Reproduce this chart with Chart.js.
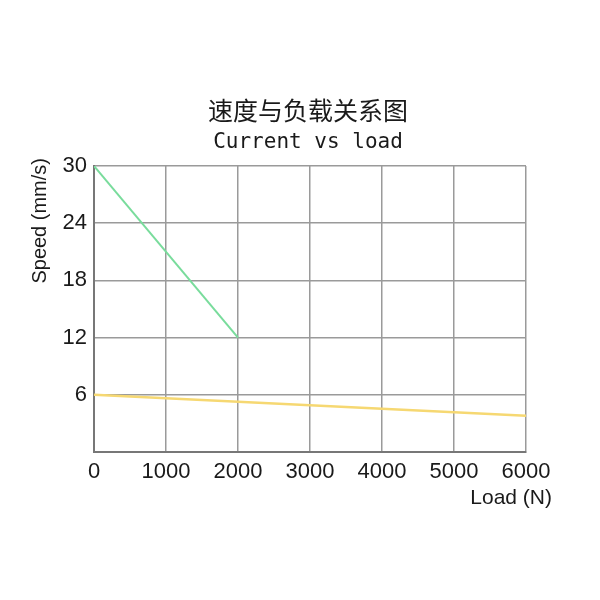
<!DOCTYPE html>
<html>
<head>
<meta charset="utf-8">
<script src="https://cdn.jsdelivr.net/npm/chart.js@4"></script>
<style>
html,body{margin:0;padding:0;background:#fff;}
#wrap{width:600px;height:600px;}
</style>
</head>
<body>
<div id="wrap"><canvas id="c" width="600" height="600"></canvas></div>
<script>
const titleMain = "速度与负载关系图";
const titleSub = "Current vs load";
const xTitle = "Load (N)";
const yTitle = "Speed (mm/s)";
const xTicks = [0, 1000, 2000, 3000, 4000, 5000, 6000];
const yTicks = [0, 6, 12, 18, 24, 30];
const greenLoad = [0, 2000];
const greenSpeed = [30, 12];
const yellowLoad = [0, 6000];
const yellowSpeed = [6.0, 3.8];

const toPts = (xs, ys) => xs.map((x, i) => ({x: x, y: ys[i]}));

const textPlugin = {
  id: 'texts',
  afterDraw(chart) {
    const ctx = chart.ctx;
    ctx.save();
    ctx.fillStyle = '#1a1a1a';
    ctx.textAlign = 'center';
    ctx.textBaseline = 'middle';
    ctx.font = '25px "Noto Sans CJK SC"';
    ctx.fillText(titleMain, 308, 110);
    ctx.font = '21px "DejaVu Sans Mono"';
    ctx.fillText(titleSub, 308, 143);
    ctx.font = '21px "Liberation Sans"';
    ctx.textAlign = 'right';
    ctx.fillText(xTitle, 552, 498);
    ctx.translate(40, 158);
    ctx.rotate(-Math.PI / 2);
    ctx.textAlign = 'right';
    ctx.font = '20px "Liberation Sans"';
    ctx.fillText(yTitle, 0, 0);
    ctx.restore();
  }
};

new Chart(document.getElementById('c'), {
  type: 'scatter',
  data: {
    datasets: [
      {data: toPts(greenLoad, greenSpeed), showLine: true, borderColor: '#79dc9c', borderWidth: 2, pointRadius: 0, fill: false},
      {data: toPts(yellowLoad, yellowSpeed), showLine: true, borderColor: '#f6d872', borderWidth: 2.5, pointRadius: 0, fill: false}
    ]
  },
  plugins: [textPlugin],
  options: {
    responsive: false,
    animation: false,
    devicePixelRatio: 1,
    layout: {padding: {left: 0, right: 74, top: 166, bottom: 0}},
    plugins: {legend: {display: false}, tooltip: {enabled: false}, title: {display: false}},
    scales: {
      x: {
        type: 'linear', min: 0, max: 6000,
        afterBuildTicks: s => { s.ticks = xTicks.map(v => ({value: v})); },
        afterFit: s => { s.height = 148; },
        grid: {color: '#9a9a9a', lineWidth: 1.5, drawTicks: false},
        border: {color: '#777', width: 2},
        ticks: {color: '#1a1a1a', font: {family: '"Liberation Sans"', size: 22}, padding: 7, maxRotation: 0, autoSkip: false, callback: v => String(v)}
      },
      y: {
        type: 'linear', min: 0, max: 30,
        afterBuildTicks: s => { s.ticks = yTicks.map(v => ({value: v})); },
        afterFit: s => { s.width = 94; },
        grid: {color: '#9a9a9a', lineWidth: 1.5, drawTicks: false},
        border: {color: '#777', width: 2},
        ticks: {color: '#1a1a1a', font: {family: '"Liberation Sans"', size: 22}, padding: 7, callback: v => v === 0 ? '' : String(v)}
      }
    }
  }
});
</script>
</body>
</html>
